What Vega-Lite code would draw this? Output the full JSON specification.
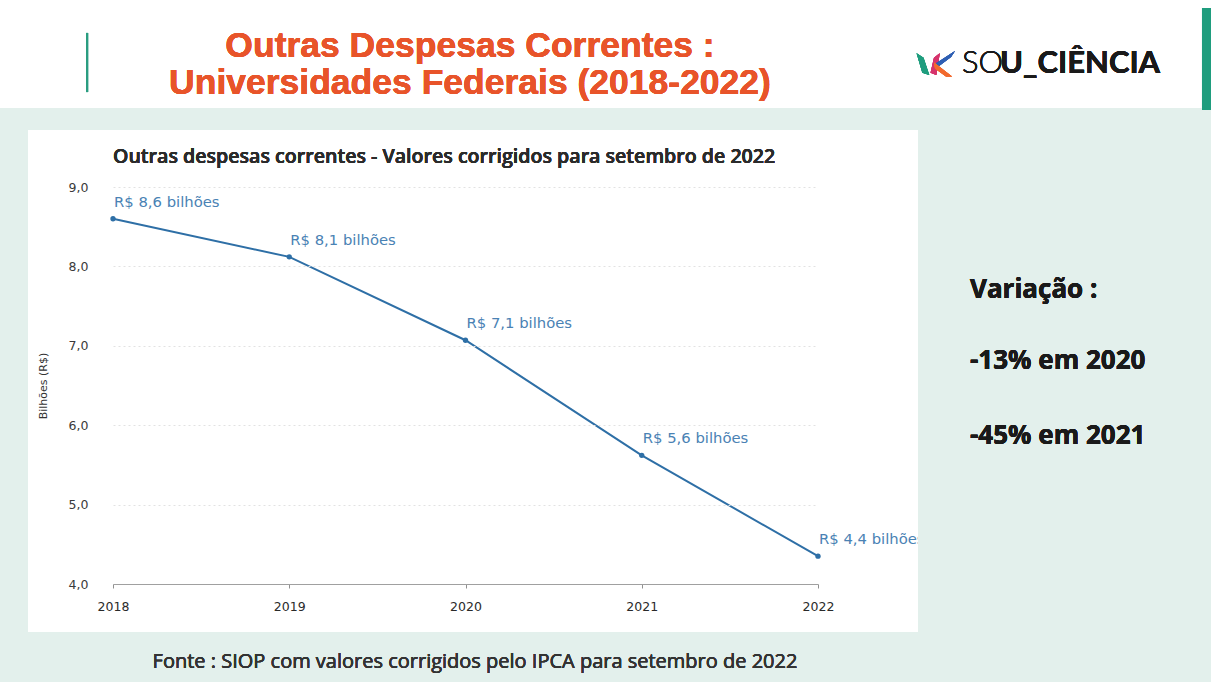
{
  "$schema": "https://vega.github.io/schema/vega-lite/v6.json",
  "autosize": {"type": "none"},
  "padding": {"left": 113, "top": 187, "right": 393, "bottom": 98},
  "width": 705,
  "height": 397,
  "background": "#ffffff",
  "config": {"view": {"stroke": null}},
  "datasets": {
    "despesas": [
      {"ano": 2018, "valor": 8.6, "rotulo": "R$ 8,6 bilhões"},
      {"ano": 2019, "valor": 8.12, "rotulo": "R$ 8,1 bilhões"},
      {"ano": 2020, "valor": 7.07, "rotulo": "R$ 7,1 bilhões"},
      {"ano": 2021, "valor": 5.62, "rotulo": "R$ 5,6 bilhões"},
      {"ano": 2022, "valor": 4.35, "rotulo": "R$ 4,4 bilhões"}
    ]
  },
  "data": {"name": "despesas"},
  "layer": [
    {
      "mark": {"type": "rect", "color": "#e3f0ec"},
      "encoding": {
        "x": {"datum": 2017.3589},
        "x2": {"datum": 2024.2298},
        "y": {"datum": 9.995},
        "y2": {"datum": 2.7657}
      }
    },
    {
      "mark": {"type": "rect", "color": "#1f9d7e"},
      "encoding": {
        "x": {"datum": 2024.1787},
        "x2": {"datum": 2024.2298},
        "y": {"datum": 11.254},
        "y2": {"datum": 9.970}
      }
    },
    {
      "mark": {"type": "rule", "color": "#2a9d80", "strokeWidth": 2},
      "encoding": {
        "x": {"datum": 2017.853},
        "y": {"datum": 10.94},
        "y2": {"datum": 10.196}
      }
    },
    {
      "mark": {"type": "rect", "color": "#ffffff"},
      "encoding": {
        "x": {"datum": 2017.5177},
        "x2": {"datum": 2022.5674},
        "y": {"datum": 9.7179},
        "y2": {"datum": 3.3955}
      }
    },
    {
      "mark": {"type": "line", "color": "#2e6fa6", "strokeWidth": 2},
      "encoding": {
        "x": {
          "field": "ano",
          "type": "quantitative",
          "title": "",
          "scale": {"domain": [2018, 2022], "nice": false, "zero": false},
          "axis": {
            "title": "",
            "values": [2018, 2019, 2020, 2021, 2022],
            "format": "d",
            "grid": false,
            "zindex": 1,
            "domainColor": "#a0a0a0",
            "domainWidth": 1.2,
            "tickColor": "#909090",
            "tickSize": 4,
            "labelPadding": 12,
            "labelFont": "DejaVu Sans",
            "labelFontSize": 12.5,
            "labelColor": "#2a2a2a",
            "labelFlush": false
          }
        },
        "y": {
          "field": "valor",
          "type": "quantitative",
          "title": "Bilhões (R$)",
          "scale": {"domain": [4, 9], "nice": false, "zero": false},
          "axis": {
            "title": "Bilhões (R$)",
            "titleFont": "DejaVu Sans",
            "titleFontSize": 11,
            "titleFontWeight": "normal",
            "titleColor": "#333333",
            "titlePadding": 20,
            "values": [4, 5, 6, 7, 8, 9],
            "labelExpr": "replace(format(datum.value, '.1f'), '.', ',')",
            "labelFont": "DejaVu Sans",
            "labelFontSize": 12.5,
            "labelColor": "#3a3a3a",
            "labelPadding": 25,
            "domain": false,
            "ticks": false,
            "grid": true,
            "gridColor": "#e2e2e2",
            "gridDash": [2, 3],
            "zindex": 1
          }
        }
      }
    },
    {
      "mark": {"type": "point", "filled": true, "color": "#2e6fa6", "size": 28, "opacity": 1},
      "encoding": {
        "x": {"field": "ano", "type": "quantitative"},
        "y": {"field": "valor", "type": "quantitative"}
      }
    },
    {
      "mark": {"type": "text", "align": "left", "baseline": "alphabetic", "dx": 1, "dy": -12, "font": "DejaVu Sans", "fontSize": 14.8, "color": "#4a82b4"},
      "encoding": {
        "x": {"field": "ano", "type": "quantitative"},
        "y": {"field": "valor", "type": "quantitative"},
        "text": {"field": "rotulo"}
      }
    },
    {
      "mark": {"type": "rect", "color": "#e3f0ec"},
      "encoding": {
        "x": {"datum": 2022.5674},
        "x2": {"datum": 2024.1787},
        "y": {"datum": 9.995},
        "y2": {"datum": 2.7657}
      }
    },
    {
      "mark": {"type": "text", "align": "center", "baseline": "alphabetic", "font": "Liberation Sans", "fontWeight": "bold", "fontSize": 35.5, "color": "#e8542a", "lineHeight": 37, "text": ["Outras Despesas Correntes :", "Universidades Federais (2018-2022)"]},
      "encoding": {
        "x": {"datum": 2020.0255},
        "y": {"datum": 10.637}
      }
    },
    {
      "mark": {"type": "text", "align": "left", "baseline": "alphabetic", "font": "Open Sans", "fontWeight": 600, "fontSize": 19.6, "color": "#2b2b2b", "text": "Outras despesas correntes - Valores corrigidos para setembro de 2022"},
      "encoding": {
        "x": {"datum": 2018},
        "y": {"datum": 9.3023}
      }
    },
    {
      "mark": {"type": "text", "align": "left", "baseline": "alphabetic", "font": "Lato", "fontWeight": 300, "fontSize": 31, "color": "#1a1a1a", "text": "SO"},
      "encoding": {
        "x": {"datum": 2022.817},
        "y": {"datum": 10.432}
      }
    },
    {
      "mark": {"type": "text", "align": "left", "baseline": "alphabetic", "font": "Lato", "fontWeight": "bold", "fontSize": 31, "color": "#1a1a1a", "text": "U_CIÊNCIA"},
      "encoding": {
        "x": {"datum": 2023.0326},
        "y": {"datum": 10.432}
      }
    },
    {
      "mark": {"type": "point", "filled": true, "opacity": 1, "color": "#1f9d7e", "size": 529, "shape": "M-0.6,-0.9L0,-0.5L0.5,1L-0.1,0.8Z"},
      "encoding": {
        "x": {"datum": 2022.5986},
        "y": {"datum": 10.5554}
      }
    },
    {
      "mark": {"type": "point", "filled": true, "opacity": 1, "color": "#d6336c", "size": 529, "shape": "M0.5,-0.9L0.2,1L-0.3,0.8L0,-0.5Z"},
      "encoding": {
        "x": {"datum": 2022.6582},
        "y": {"datum": 10.5554}
      }
    },
    {
      "mark": {"type": "point", "filled": true, "opacity": 1, "color": "#2f5fb3", "size": 400, "shape": "M-1,0.6L1,-0.7L0.6,-0.1L-0.6,0.8Z"},
      "encoding": {
        "x": {"datum": 2022.7206},
        "y": {"datum": 10.6247}
      }
    },
    {
      "mark": {"type": "point", "filled": true, "opacity": 1, "color": "#f26a2e", "size": 400, "shape": "M-1,-0.6L0.8,0.8L0.2,0.8L-0.9,0Z"},
      "encoding": {
        "x": {"datum": 2022.7149},
        "y": {"datum": 10.4924}
      }
    },
    {
      "mark": {"type": "text", "align": "left", "baseline": "alphabetic", "font": "Open Sans", "fontWeight": "bold", "fontSize": 26, "color": "#1a1a1a", "text": "Variação :"},
      "encoding": {
        "x": {"datum": 2022.8624},
        "y": {"datum": 7.602}
      }
    },
    {
      "mark": {"type": "text", "align": "left", "baseline": "alphabetic", "font": "Open Sans", "fontWeight": "bold", "fontSize": 26, "color": "#1a1a1a", "text": "-13% em 2020"},
      "encoding": {
        "x": {"datum": 2022.8624},
        "y": {"datum": 6.7078}
      }
    },
    {
      "mark": {"type": "text", "align": "left", "baseline": "alphabetic", "font": "Open Sans", "fontWeight": "bold", "fontSize": 26, "color": "#1a1a1a", "text": "-45% em 2021"},
      "encoding": {
        "x": {"datum": 2022.8624},
        "y": {"datum": 5.7632}
      }
    },
    {
      "mark": {"type": "text", "align": "center", "baseline": "alphabetic", "font": "Open Sans", "fontSize": 20, "color": "#333333", "text": "Fonte : SIOP com valores corrigidos pelo IPCA para setembro de 2022"},
      "encoding": {
        "x": {"datum": 2020.0539},
        "y": {"datum": 2.942}
      }
    }
  ]
}
